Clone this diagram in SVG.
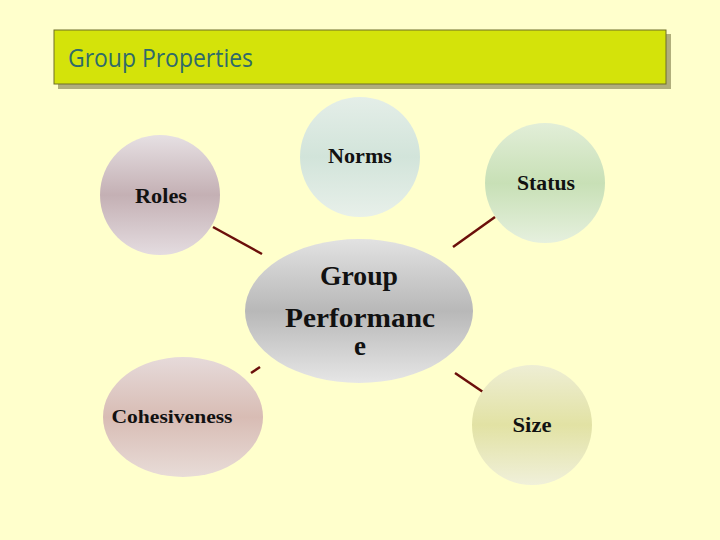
<svg xmlns="http://www.w3.org/2000/svg" width="720" height="540" viewBox="0 0 720 540">
<defs>
<linearGradient id="gRoles" x1="0" y1="0" x2="0" y2="1"><stop offset="0" stop-color="#E6E0E3"/><stop offset="0.5" stop-color="#C4B0B4"/><stop offset="1" stop-color="#E4DCE0"/></linearGradient>
<linearGradient id="gNorms" x1="0" y1="0" x2="0" y2="1"><stop offset="0" stop-color="#E4EEE8"/><stop offset="0.5" stop-color="#D2E4DA"/><stop offset="1" stop-color="#E8F0EA"/></linearGradient>
<linearGradient id="gStatus" x1="0" y1="0" x2="0" y2="1"><stop offset="0" stop-color="#E2EED8"/><stop offset="0.5" stop-color="#C8E0B6"/><stop offset="1" stop-color="#E6F0DE"/></linearGradient>
<linearGradient id="gSize" x1="0" y1="0" x2="0" y2="1"><stop offset="0" stop-color="#EEEED4"/><stop offset="0.5" stop-color="#E2E2A4"/><stop offset="1" stop-color="#F0F0DA"/></linearGradient>
<linearGradient id="gCoh" x1="0" y1="0" x2="0" y2="1"><stop offset="0" stop-color="#E6DADA"/><stop offset="0.5" stop-color="#D8BCB4"/><stop offset="1" stop-color="#E8DCD8"/></linearGradient>
<linearGradient id="gCenter" x1="0" y1="0" x2="0" y2="1"><stop offset="0" stop-color="#E2E2E2"/><stop offset="0.5" stop-color="#B8B8B8"/><stop offset="1" stop-color="#E6E6E6"/></linearGradient>
</defs>
<style>
.lbl{font-family:"Liberation Serif","DejaVu Serif",serif;font-weight:bold;font-size:20px;fill:#111;text-anchor:middle}
.big{font-size:27px}
.small{font-size:18px}
.conn{stroke:#6B0F0A;stroke-width:2.5;stroke-linecap:butt}
</style>
<rect width="720" height="540" fill="#FFFFCC"/>
<g id="title">
<rect x="58" y="34" width="613" height="55" fill="#B0AE7C"/>
<rect x="54" y="30" width="612" height="54" fill="#D4E30A" stroke="#6E6E28" stroke-width="1"/>
<text x="68" y="67" font-family="Open Sans, Liberation Sans, sans-serif" font-size="25" fill="#2F6A6A" textLength="185" lengthAdjust="spacingAndGlyphs">Group Properties</text>
</g>
<g id="connectors">
<line class="conn" x1="213" y1="227" x2="262" y2="254"/>
<line class="conn" x1="495" y1="217" x2="453" y2="247"/>
<line class="conn" x1="251" y1="373" x2="260" y2="367"/>
<line class="conn" x1="455" y1="373" x2="483" y2="392"/>
</g>
<g id="roles">
<circle cx="160" cy="195" r="60" fill="url(#gRoles)"/>
<text class="lbl" x="161" y="203" textLength="52" lengthAdjust="spacingAndGlyphs">Roles</text>
</g>
<g id="norms">
<circle cx="360" cy="157" r="60" fill="url(#gNorms)"/>
<text class="lbl" x="360" y="163" textLength="64" lengthAdjust="spacingAndGlyphs">Norms</text>
</g>
<g id="status">
<circle cx="545" cy="183" r="60" fill="url(#gStatus)"/>
<text class="lbl" x="546" y="190" textLength="58" lengthAdjust="spacingAndGlyphs">Status</text>
</g>
<g id="size">
<circle cx="532" cy="425" r="60" fill="url(#gSize)"/>
<text class="lbl" x="532" y="432" textLength="39" lengthAdjust="spacingAndGlyphs">Size</text>
</g>
<g id="cohesiveness">
<ellipse cx="183" cy="417" rx="80" ry="60" fill="url(#gCoh)"/>
<text class="lbl small" x="172" y="423" textLength="121" lengthAdjust="spacingAndGlyphs">Cohesiveness</text>
</g>
<g id="group-performance">
<ellipse cx="359" cy="311" rx="114" ry="72" fill="url(#gCenter)"/>
<text class="lbl big" x="359" y="285" textLength="78" lengthAdjust="spacingAndGlyphs">Group</text>
<text class="lbl big" x="360" y="327" textLength="150" lengthAdjust="spacingAndGlyphs">Performanc</text>
<text class="lbl big" x="360" y="355">e</text>
</g>
</svg>
